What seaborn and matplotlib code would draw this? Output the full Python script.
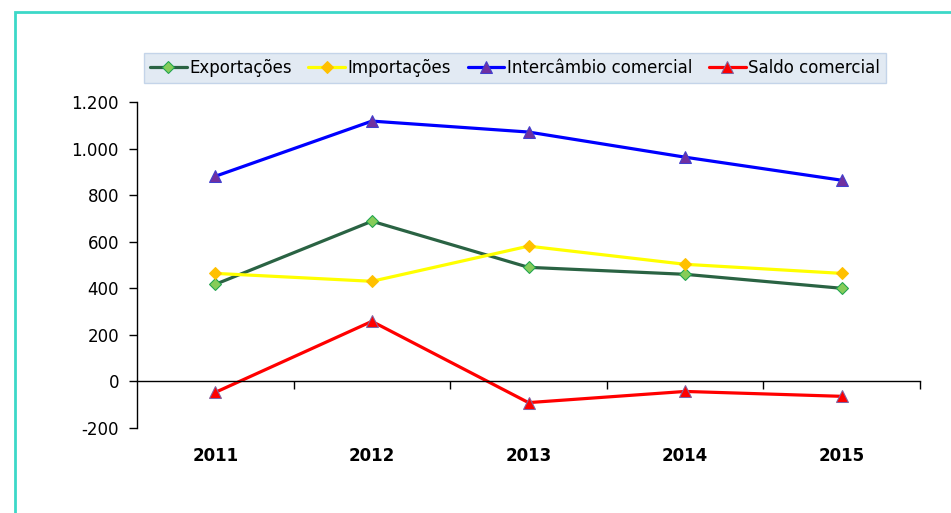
import numpy as np
import pandas as pd
import matplotlib
matplotlib.use("Agg")
import matplotlib.pyplot as plt
import seaborn as sns
from matplotlib.ticker import FuncFormatter, FixedLocator
from matplotlib.patches import Rectangle

years = ["2011", "2012", "2013", "2014", "2015"]
exportacoes = [417, 688, 490, 460, 400]
importacoes = [464, 430, 581, 503, 464]
intercambio = [881, 1118, 1071, 963, 864]
saldo = [-47, 258, -91, -43, -64]

series = {
    "Exportações": exportacoes,
    "Importações": importacoes,
    "Intercâmbio comercial": intercambio,
    "Saldo comercial": saldo,
}

styles = {
    "Exportações": dict(color="#2a6343", marker="D", markerfacecolor="#86cc5a", markeredgecolor="#1ea34f", markersize=6),
    "Importações": dict(color="#ffff00", marker="D", markerfacecolor="#ffc000", markeredgecolor="#ffc000", markersize=6),
    "Intercâmbio comercial": dict(color="#0000ff", marker="^", markerfacecolor="#7030a0", markeredgecolor="#3f3fd0", markersize=8),
    "Saldo comercial": dict(color="#ff0000", marker="^", markerfacecolor="#ff0000", markeredgecolor="#8064a2", markersize=8),
}

sns.set_style("white")
plt.rcParams["font.family"] = ["DejaVu Sans"]
plt.rcParams["text.color"] = "black"
plt.rcParams["xtick.color"] = "black"
plt.rcParams["ytick.color"] = "black"

fig = plt.figure(figsize=(9.51, 5.13), dpi=100)
ax = fig.add_axes([137 / 951, 85 / 513, 783 / 951, 326 / 513])

for name, vals in series.items():
    df = pd.DataFrame({"ano": years, "valor": vals})
    sns.lineplot(data=df, x="ano", y="valor", ax=ax, label=name,
                 linewidth=2.3, sort=False, **styles[name])

ax.set_xlim(-0.5, 4.5)
ax.set_ylim(-200, 1200)
ax.set_yticks(np.arange(-200, 1201, 200))
ax.yaxis.set_major_formatter(FuncFormatter(lambda v, p: f"{v:,.0f}".replace(",", ".")))
ax.set_xlabel("")
ax.set_ylabel("")

for s in ["top", "right"]:
    ax.spines[s].set_visible(False)
ax.spines["left"].set_color("black")
ax.spines["left"].set_linewidth(1.0)
ax.spines["bottom"].set_position(("data", 0))
ax.spines["bottom"].set_color("black")
ax.spines["bottom"].set_linewidth(1.0)

ax.tick_params(axis="y", which="major", left=True, direction="out", length=6,
               width=1, pad=7, labelsize=12, colors="black")
ax.set_xticks(range(len(years)))
ax.set_xticklabels(years, fontweight="bold", fontsize=12, color="black")
ax.xaxis.set_minor_locator(FixedLocator(np.arange(0.5, 4.6, 1.0)))
ax.tick_params(axis="x", which="major", bottom=True, length=0, pad=47)
ax.tick_params(axis="x", which="minor", bottom=True, direction="out", length=6, width=1)

leg = ax.legend(loc="center", bbox_to_anchor=(515 / 951, (513 - 68) / 513),
                bbox_transform=fig.transFigure, ncol=4, fontsize=12,
                frameon=True, fancybox=False, handlelength=2.2,
                handletextpad=0.15, columnspacing=1.0, borderpad=0.35,
                labelcolor="black")
leg.get_frame().set_facecolor("#dbe5f1")
leg.get_frame().set_edgecolor("#b9cde5")
leg.get_frame().set_linewidth(1.0)

# teal outer frame (cut off on right and bottom as in the original)
fig.patches.append(Rectangle((15 / 951, -0.1), 1.0, (513 - 12) / 513 + 0.1,
                             transform=fig.transFigure, fill=False,
                             edgecolor="#3cd8c8", linewidth=2))

fig.savefig("out.png", dpi=100)
